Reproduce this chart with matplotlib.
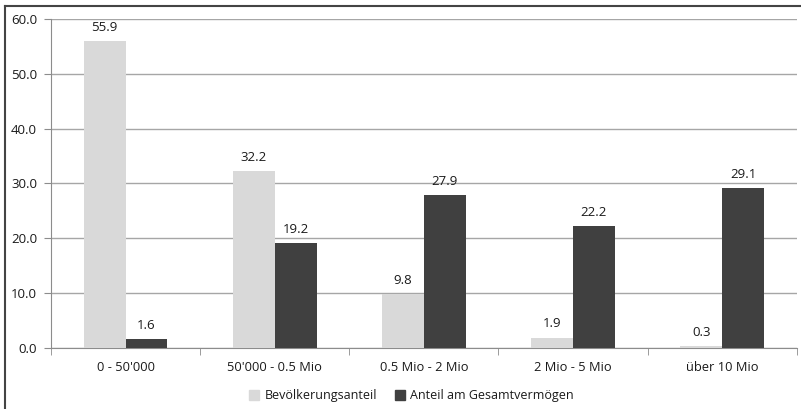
import matplotlib.pyplot as plt
import numpy as np
from matplotlib.lines import Line2D

categories = ['0 - 50\'000', '50\'000 - 0.5 Mio', '0.5 Mio - 2 Mio', '2 Mio - 5 Mio', 'über 10 Mio']
bevoelkerung = [55.9, 32.2, 9.8, 1.9, 0.3]
vermoegen = [1.6, 19.2, 27.9, 22.2, 29.1]
series_names = ['Bevölkerungsanteil', 'Anteil am Gesamtvermögen']

plt.rcParams['font.family'] = ['Open Sans', 'DejaVu Sans']

fig = plt.figure(figsize=(8.01, 4.09), dpi=100)
ax = fig.add_axes([0.0637, 0.149, 0.931, 0.805])

x = np.arange(len(categories))
w = 0.28
b1 = ax.bar(x - w/2, bevoelkerung, w, color='#d9d9d9', zorder=3, label=series_names[0])
b2 = ax.bar(x + w/2, vermoegen, w, color='#404040', zorder=3, label=series_names[1])

for bars, vals in [(b1, bevoelkerung), (b2, vermoegen)]:
    for r, v in zip(bars, vals):
        ax.text(r.get_x() + r.get_width()/2, v + 1.3, f'{v:.1f}', ha='center', va='bottom',
                fontsize=9.5, color='#1a1a1a')

ax.set_xlim(-0.5, len(categories) - 0.5)
ax.set_ylim(0, 60)
ax.set_yticks(np.arange(0, 61, 10))
ax.set_yticklabels([f'{t:.1f}' for t in np.arange(0, 61, 10)], fontsize=9.5, color='#1a1a1a')
ax.yaxis.grid(True, color='#a6a6a6', linewidth=1.0, zorder=0)

# category labels centred, tick marks on group boundaries
ax.set_xticks(x)
ax.set_xticklabels(categories, fontsize=9.3, color='#1a1a1a')
ax.tick_params(axis='x', length=0, pad=9)
ax.set_xticks(np.arange(-0.5, len(categories)), minor=True)
ax.tick_params(axis='x', which='minor', length=5, color='#8c8c8c', direction='out')
ax.tick_params(axis='y', length=5, color='#8c8c8c', pad=5)

for s in ['top', 'right']:
    ax.spines[s].set_visible(False)
ax.spines['left'].set_color('#8c8c8c')
ax.spines['bottom'].set_color('#8c8c8c')

handles = [Line2D([], [], marker='s', linestyle='', markersize=7, color='#d9d9d9'),
           Line2D([], [], marker='s', linestyle='', markersize=7, color='#404040')]
fig.legend(handles, series_names, loc='center', bbox_to_anchor=(0.512, 0.032), ncol=2,
           frameon=False, fontsize=9.0, handletextpad=0.25, columnspacing=1.2,
           handlelength=1.2, labelcolor='#1a1a1a')

# outer frame on left and top
fig.add_artist(Line2D([0.0065, 0.0065], [0, 0.985], color='#444444', linewidth=1.5))
fig.add_artist(Line2D([0.0065, 1.0], [0.985, 0.985], color='#444444', linewidth=1.5))

fig.savefig('out.png', dpi=100)
